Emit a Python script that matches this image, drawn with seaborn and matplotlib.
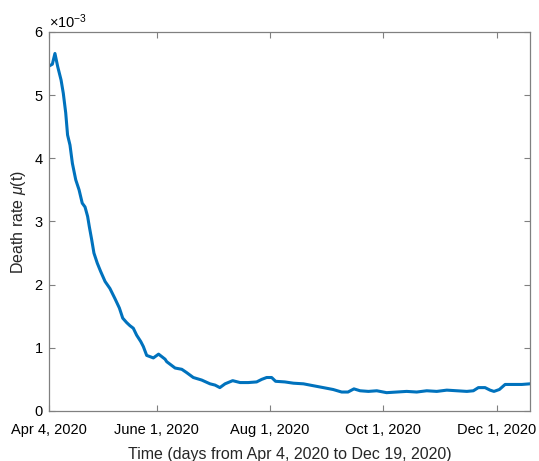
import pandas as pd
import matplotlib
matplotlib.use("Agg")
import matplotlib.pyplot as plt
import matplotlib.ticker as mticker
import seaborn as sns

# days since Apr 4, 2020 and death rate (x 1e-3)
days = [0, 1.8, 3.2, 4.7, 6.5, 7.7, 9, 10, 11.3, 12.6, 14.4, 16.2, 17.9, 19.4,
        20.8, 21.7, 23, 24.2, 26, 27.8, 30.2, 32.8, 35.5, 37.9, 39.7, 41.8,
        43.6, 45.4, 47.2, 49.4, 50.8, 52.6, 56.2, 59, 62.5, 63.4, 67.9, 71.5,
        74, 77.7, 82.2, 86.7, 89.4, 92, 94.8, 98.9, 102.9, 107.3, 111.8, 114.5,
        117.2, 119.9, 122, 127, 131.6, 137, 142.3, 147.7, 153, 157.6, 161,
        164.2, 167.5, 172, 176.5, 181.8, 187.2, 192.6, 198, 203.4, 208.8,
        214.2, 219.6, 225, 228.5, 231.2, 234.8, 237.5, 239.6, 242.5, 245.6,
        250, 254.6, 259]
rate = [5.46, 5.49, 5.66, 5.45, 5.24, 5.03, 4.72, 4.37, 4.21, 3.92, 3.66, 3.50,
        3.29, 3.23, 3.08, 2.92, 2.71, 2.50, 2.34, 2.21, 2.05, 1.94, 1.78, 1.63,
        1.47, 1.40, 1.35, 1.31, 1.20, 1.10, 1.02, 0.88, 0.84, 0.90, 0.82, 0.78,
        0.68, 0.66, 0.61, 0.53, 0.49, 0.43, 0.41, 0.37, 0.43, 0.48, 0.45, 0.45,
        0.46, 0.50, 0.53, 0.53, 0.47, 0.46, 0.44, 0.43, 0.40, 0.37, 0.34, 0.30,
        0.30, 0.35, 0.32, 0.31, 0.32, 0.29, 0.30, 0.31, 0.30, 0.32, 0.31, 0.33,
        0.32, 0.31, 0.32, 0.37, 0.37, 0.33, 0.31, 0.34, 0.42, 0.42, 0.42, 0.43]

tick_dates = ["2020-04-04", "2020-06-01", "2020-08-01", "2020-10-01", "2020-12-01"]
tick_labels = ["Apr 4, 2020", "June 1, 2020", "Aug 1, 2020", "Oct 1, 2020", "Dec 1, 2020"]

start = pd.Timestamp("2020-04-04")
df = pd.DataFrame({
    "date": [start + pd.Timedelta(days=d) for d in days],
    "rate": [r * 1e-3 for r in rate],
})

sns.set_style("ticks")
plt.rcParams["font.family"] = ["Liberation Sans", "DejaVu Sans"]
plt.rcParams["mathtext.fontset"] = "custom"
plt.rcParams["mathtext.it"] = "Liberation Sans:italic"
plt.rcParams["mathtext.rm"] = "Liberation Sans"

fig = plt.figure(figsize=(5.39, 4.61), dpi=100)
ax = fig.add_axes([0.0909, 0.1085, 0.8924, 0.8221])

sns.lineplot(data=df, x="date", y="rate", color="#0072BD", linewidth=2.2, ax=ax)

ax.set_xlim(start, pd.Timestamp("2020-12-19"))
ax.set_ylim(0, 6e-3)
ax.set_xticks([pd.Timestamp(t) for t in tick_dates])
ax.set_xticklabels(tick_labels)
ax.set_yticks([i * 1e-3 for i in range(7)])
fmt = mticker.ScalarFormatter(useMathText=True)
fmt.set_powerlimits((-2, 2))
ax.yaxis.set_major_formatter(fmt)
ax.yaxis.get_offset_text().set_fontsize(10.5)

ax.tick_params(direction="in", top=True, right=True, length=4, width=0.8,
               color="#808080", labelsize=10.5, labelcolor="black", pad=4)
ax.tick_params(axis="x", pad=9)
for s in ax.spines.values():
    s.set_color("#808080")
    s.set_linewidth(0.9)

ax.set_xlabel("Time (days from Apr 4, 2020 to Dec 19, 2020)", fontsize=11.5, labelpad=7)
ax.set_ylabel("Death rate $\\mu$(t)", fontsize=11.5, labelpad=4)

fig.savefig("out.png", dpi=100)
